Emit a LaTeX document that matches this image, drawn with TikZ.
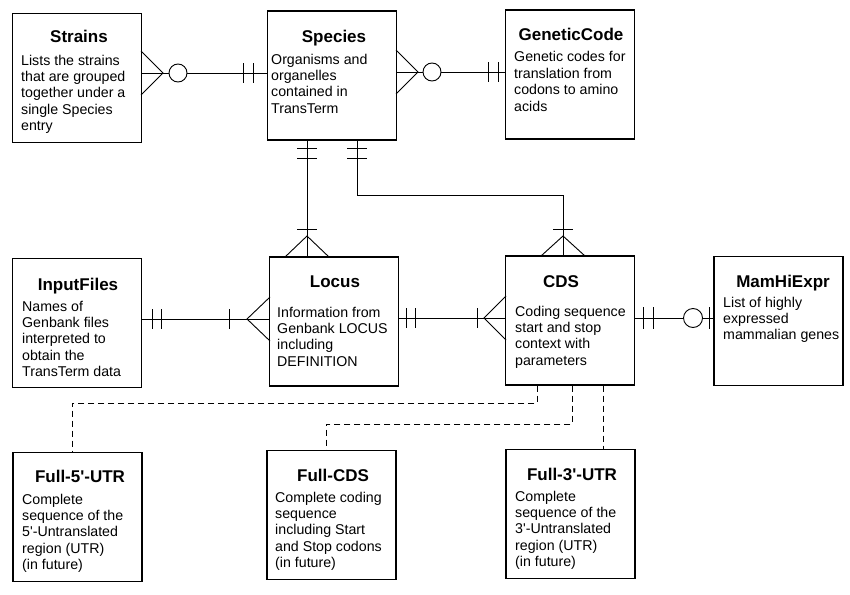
\documentclass[tikz,border=0pt]{standalone}
\usepackage{fontspec}
\setmainfont{Liberation Sans}[Ligatures=TeXOff]
\begin{document}
\begin{tikzpicture}[x=1pt,y=-1pt,
  entity/.style={draw, line width=1.2pt, rectangle, minimum width=129pt, minimum height=129pt, inner sep=0pt},
  ttl/.style={anchor=base, inner sep=0pt, font=\bfseries\fontsize{17}{19}\selectfont},
  body/.style={anchor=base west, inner sep=0pt, font=\fontsize{14.2}{16.4}\selectfont},
  rel/.style={line width=0.9pt},
  tick/.style={line width=0.9pt},
  opt/.style={line width=0.9pt, draw, fill=white},
  dep/.style={line width=0.9pt, dash pattern=on 6pt off 4pt}
]
\useasboundingbox (0,0) rectangle (850,594);

% entities
\node[entity] (strains) at (77,78) {};
\node[entity] (species) at (332,75.5) {};
\node[entity] (gcode) at (570,74.5) {};
\node[entity] (input) at (77,323) {};
\node[entity] (locus) at (334,321.5) {};
\node[entity] (cds) at (570,320.5) {};
\node[entity] (mam) at (778.5,321) {};
\node[entity] (f5) at (77.5,517) {};
\node[entity] (fcds) at (331.5,515) {};
\node[entity] (f3) at (570.5,514) {};

% titles
\node[ttl] (strainsH) at (79,43) {Strains};
\node[ttl] (speciesH) at (334,42) {Species};
\node[ttl] (gcodeH) at (571,41) {GeneticCode};
\node[ttl] (inputH) at (78,290) {InputFiles};
\node[ttl] (locusH) at (335,287) {Locus};
\node[ttl] (cdsH) at (561,287) {CDS};
\node[ttl] (mamH) at (783,287) {MamHiExpr};
\node[ttl] (f5H) at (80,482) {Full-5'-UTR};
\node[ttl] (fcdsH) at (333,481) {Full-CDS};
\node[ttl] (f3H) at (572,480) {Full-3'-UTR};

% bodies
\node[body] (strainsT) at (21,65) {\parbox[t]{120pt}{Lists the strains\\that are grouped\\together under a\\single Species\\entry}};
\node[body] (speciesT) at (271,64) {\parbox[t]{120pt}{Organisms and\\organelles\\contained in\\TransTerm}};
\node[body] (gcodeT) at (514,62) {\parbox[t]{120pt}{Genetic codes for\\translation from\\codons to amino\\acids}};
\node[body] (inputT) at (22,311) {\parbox[t]{120pt}{Names of\\Genbank files\\interpreted to\\obtain the\\TransTerm data}};
\node[body] (locusT) at (277,317) {\parbox[t]{120pt}{Information from\\Genbank LOCUS\\including\\DEFINITION}};
\node[body] (cdsT) at (515,316) {\parbox[t]{120pt}{Coding sequence\\start and stop\\context with\\parameters}};
\node[body] (mamT) at (723,307) {\parbox[t]{120pt}{List of highly\\expressed\\mammalian genes}};
\node[body] (f5T) at (22,504) {\parbox[t]{120pt}{Complete\\sequence of the\\5'-Untranslated\\region (UTR)\\(in future)}};
\node[body] (fcdsT) at (275,502) {\parbox[t]{120pt}{Complete coding\\sequence\\including Start\\and Stop codons\\(in future)}};
\node[body] (f3T) at (515,501) {\parbox[t]{120pt}{Complete\\sequence of the\\3'-Untranslated\\region (UTR)\\(in future)}};

% Strains -- Species
\draw[rel] (strains.east |- 0,73) -- (species.west |- 0,73);
\draw[tick] (141,51) -- (163,73) -- (141,95);
\draw[tick] (243,63) -- (243,83) (253,63) -- (253,83);
\draw[opt] (178,73) circle (9);

% Species -- GeneticCode
\draw[rel] (species.east |- 0,72) -- (gcode.west |- 0,72);
\draw[tick] (396,50) -- (418,72) -- (396,94);
\draw[tick] (488,62) -- (488,82) (498,62) -- (498,82);
\draw[opt] (432,72) circle (9);

% Species -- Locus
\draw[rel] (species.south -| 307,0) -- (locus.north -| 307,0);
\draw[tick] (297,148) -- (317,148) (297,158) -- (317,158);
\draw[tick] (297,229) -- (317,229);
\draw[tick] (285,257) -- (307,236) -- (329,257);

% Species -- CDS
\draw[rel] (species.south -| 357,0) -- (357,195) -- (563,195) -- (cds.north -| 563,0);
\draw[tick] (347,148) -- (367,148) (347,158) -- (367,158);
\draw[tick] (553,229) -- (573,229);
\draw[tick] (541,256) -- (563,236) -- (585,256);

% InputFiles -- Locus
\draw[rel] (input.east |- 0,319) -- (locus.west |- 0,319);
\draw[tick] (152,309) -- (152,329) (161,309) -- (161,329);
\draw[tick] (229,309) -- (229,329);
\draw[tick] (270,297) -- (247,319) -- (270,341);

% Locus -- CDS
\draw[rel] (locus.east |- 0,318) -- (cds.west |- 0,318);
\draw[tick] (406,308) -- (406,328) (415,308) -- (415,328);
\draw[tick] (477,308) -- (477,328);
\draw[tick] (506,296) -- (484,318) -- (506,340);

% CDS -- MamHiExpr
\draw[rel] (cds.east |- 0,318) -- (mam.west |- 0,318);
\draw[tick] (643,307) -- (643,329) (653,307) -- (653,329);
\draw[tick] (709,307) -- (709,329);
\draw[opt] (693,318) circle (9.5);

% dependent (future) tables
\draw[dep] (cds.south -| 537,0) -- (537,403) -- (72,403) -- (f5.north -| 72,0);
\draw[dep] (cds.south -| 572,0) -- (572,424) -- (326,424) -- (fcds.north -| 326,0);
\draw[dep] (cds.south -| 603,0) -- (f3.north -| 603,0);
\end{tikzpicture}
\end{document}
